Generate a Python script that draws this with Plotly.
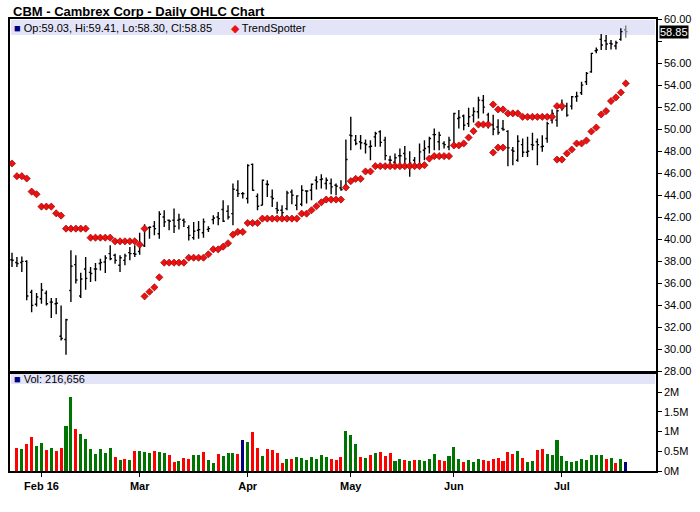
import pandas as pd
import plotly.graph_objects as go

# trading days on the chart (exchange holidays dropped)
holidays = ["2016-02-15", "2016-03-25", "2016-05-30", "2016-07-04"]
days = [d.strftime("%Y-%m-%d") for d in pd.bdate_range("2016-01-22", "2016-07-21")]
days = [d for d in days if d not in holidays]

month_ticks = ["2016-02-01", "2016-03-01", "2016-04-01", "2016-05-02", "2016-06-01", "2016-07-01"]
month_labels = ["Feb 16", "Mar", "Apr", "May", "Jun", "Jul"]

price_ticks = [28, 30, 32, 34, 36, 38, 40, 42, 44, 46, 48, 50, 52, 54, 56, 58, 60]
vol_ticks = [0, 0.5, 1, 1.5, 2]
vol_labels = ["0M", "0.5M", "1M", "1.5M", "2M"]

opens = [
    38.15, 37.90, 37.90, 38.00, 35.20, 34.10, 34.60, 35.10, 34.30, 34.15,
    31.20, 30.90, 35.36, 37.70, 34.85, 37.30, 37.00, 37.30, 37.80, 37.94,
    38.70, 38.55, 37.64, 38.09, 38.79, 38.70, 38.90, 39.40, 41.06, 41.18,
    40.50, 42.03, 41.73, 41.73, 41.73, 41.73, 41.06, 40.15, 40.82, 40.60,
    40.90, 41.79, 42.03, 42.70, 42.55, 42.33, 44.45, 44.15, 43.70, 46.80,
    43.90, 43.09, 45.00, 43.85, 42.79, 42.64, 42.79, 44.30, 43.09, 43.18,
    44.39, 44.45, 45.36, 45.42, 45.06, 45.06, 44.91, 44.67, 44.90, 49.46,
    49.00, 48.85, 48.70, 48.40, 49.30, 49.76, 49.00, 47.20, 47.00, 47.58,
    47.79, 46.70, 47.18, 46.80, 48.09, 48.40, 49.50, 48.85, 48.70, 48.40,
    48.60, 50.97, 51.20, 50.50, 51.27, 51.58, 52.60, 51.30, 50.40, 50.20,
    50.06, 49.80, 48.10, 47.18, 48.60, 47.90, 48.60, 48.85, 48.40, 49.15,
    50.82, 50.82, 52.09, 52.09, 52.09, 52.94, 53.30, 54.30, 55.20, 57.12,
    58.15, 58.03, 57.79, 57.55, 58.15, 59.03,
]
highs = [
    38.79, 38.39, 38.45, 38.09, 35.42, 35.12, 36.03, 35.36, 34.67, 34.67,
    34.00, 32.79, 39.00, 38.55, 36.97, 38.39, 37.48, 37.85, 38.24, 38.55,
    39.45, 38.70, 38.55, 38.70, 39.30, 39.45, 40.60, 41.36, 41.18, 41.67,
    42.55, 42.64, 41.79, 42.79, 42.33, 41.88, 41.27, 41.58, 41.67, 41.88,
    41.18, 42.18, 42.48, 43.55, 43.09, 45.06, 45.36, 44.30, 46.82, 46.88,
    44.15, 45.43, 45.36, 44.52, 43.40, 43.09, 44.40, 44.52, 44.00, 44.91,
    44.45, 45.06, 45.73, 45.91, 45.61, 45.52, 45.06, 45.36, 49.06, 51.12,
    49.46, 49.46, 49.06, 49.00, 49.76, 49.90, 49.30, 47.58, 47.79, 48.24,
    48.48, 48.00, 47.48, 48.70, 49.00, 49.30, 50.06, 49.76, 48.90, 49.30,
    51.50, 51.73, 51.33, 51.94, 52.00, 52.94, 53.09, 51.50, 51.30, 50.90,
    50.82, 49.91, 48.39, 49.45, 49.15, 49.30, 49.67, 49.15, 49.45, 50.67,
    51.79, 51.73, 52.70, 52.39, 53.00, 53.39, 54.30, 55.20, 56.94, 57.42,
    58.64, 58.55, 58.09, 58.03, 59.15, 59.41,
]
lows = [
    37.48, 37.48, 37.03, 34.46, 33.39, 33.90, 34.15, 34.00, 32.85, 33.20,
    30.82, 29.51, 34.30, 36.00, 34.67, 35.42, 36.12, 36.20, 37.18, 36.94,
    38.09, 37.79, 37.03, 37.64, 38.09, 38.40, 38.60, 39.30, 40.06, 40.36,
    40.06, 41.12, 40.82, 40.58, 40.90, 41.12, 39.90, 39.97, 40.06, 40.15,
    40.67, 41.36, 41.27, 41.58, 41.79, 41.27, 43.85, 43.70, 43.24, 44.40,
    42.64, 43.09, 43.85, 42.94, 42.33, 41.88, 42.64, 43.18, 42.64, 43.00,
    43.24, 43.55, 44.52, 44.61, 44.52, 44.10, 44.00, 44.40, 44.70, 48.09,
    48.55, 48.15, 47.79, 47.18, 48.40, 48.40, 47.18, 46.73, 46.73, 46.88,
    46.67, 45.67, 46.42, 46.58, 47.18, 47.79, 48.09, 48.09, 48.24, 48.09,
    48.40, 50.06, 49.90, 50.20, 50.60, 50.97, 51.42, 50.06, 49.45, 49.50,
    49.85, 46.64, 46.73, 47.03, 47.48, 47.48, 48.09, 46.73, 47.94, 48.76,
    50.52, 50.21, 51.67, 51.12, 51.79, 52.48, 53.09, 54.00, 55.12, 56.88,
    57.18, 57.18, 57.24, 57.24, 58.03, 58.30,
]
closes = [
    38.10, 37.80, 38.00, 34.85, 34.00, 34.76, 35.40, 34.15, 34.30, 34.20,
    31.00, 32.70, 37.55, 36.30, 36.40, 36.45, 36.90, 37.30, 37.90, 38.30,
    38.24, 38.09, 38.33, 38.50, 38.70, 38.64, 39.60, 41.00, 41.10, 40.97,
    42.27, 41.58, 41.64, 41.18, 41.82, 41.58, 40.36, 40.73, 40.88, 41.58,
    40.97, 41.94, 41.88, 41.64, 42.03, 44.55, 44.15, 44.15, 46.70, 44.45,
    43.00, 45.36, 44.97, 43.70, 42.64, 42.42, 44.21, 44.00, 43.94, 44.45,
    44.39, 45.00, 45.21, 45.48, 45.36, 44.76, 44.82, 44.52, 47.24, 49.40,
    48.70, 48.76, 48.61, 48.45, 49.60, 48.80, 47.60, 47.18, 47.40, 47.58,
    47.30, 46.90, 46.60, 47.94, 48.24, 49.15, 49.50, 49.45, 48.60, 49.00,
    51.42, 51.06, 50.36, 51.12, 51.60, 52.64, 52.00, 50.40, 50.00, 49.70,
    49.97, 48.30, 48.00, 48.90, 47.90, 48.00, 48.55, 48.60, 48.45, 50.50,
    51.42, 51.67, 51.88, 51.27, 52.94, 53.00, 54.00, 55.06, 56.88, 57.18,
    57.64, 57.73, 57.73, 57.85, 58.85, 58.85,
]

# TrendSpotter dots: the run above price and the run below price
ts_upper = [
    46.88, 45.73, 45.73, 45.52, 44.33, 44.09, 42.97, 42.97, 42.97, 42.36,
    42.15, 40.97, 40.97, 40.97, 40.97, 40.97, 40.15, 40.15, 40.15, 40.15,
    40.15, 39.82, 39.82, 39.82, 39.82, 39.82, 39.52, 40.97,
] + [None] * 70 + [
    52.24, 51.79, 51.79, 51.43, 51.43, 51.43, 51.12, 51.12, 51.12, 51.12,
    51.12, 51.12, 51.12, 52.09, 52.09,
] + [None] * 13
ts_lower = [None] * 27 + [
    34.82, 35.24, 35.64, 36.55, 37.88, 37.88, 37.88, 37.88, 37.88, 38.33,
    38.33, 38.33, 38.33, 38.64, 39.09, 39.09, 39.33, 39.64, 40.42, 40.67,
    40.67, 41.48, 41.48, 41.48, 41.88, 41.88, 41.88, 41.88, 41.88, 41.88,
    41.88, 41.88, 42.33, 42.33, 42.64, 43.00, 43.36, 43.61, 43.61, 43.61,
    43.61, 44.70, 45.28, 45.49, 45.49, 46.16, 46.16, 46.64, 46.64, 46.64,
    46.64, 46.64, 46.64, 46.64, 46.64, 46.64, 46.64, 46.73, 47.33, 47.55,
    47.55, 47.55, 47.55, 48.52, 48.52, 48.70, 49.24, 49.82, 50.42, 50.42,
    50.42, 47.88, 48.33, 48.33,
] + [None] * 10 + [
    47.24, 47.24, 47.79, 48.15, 48.70, 48.70, 48.97, 49.79, 50.15, 51.33,
    51.64, 52.55, 52.88, 53.33, 54.15,
]

# volume in millions of shares; first day has no bar on the chart
volume_m = [
    None, 0.58, 0.56, 0.68, 0.86, 0.63, 0.71, 0.53, 0.58, 0.51,
    0.58, 1.14, 1.87, 1.06, 0.94, 0.81, 0.56, 0.43, 0.56, 0.46,
    0.58, 0.35, 0.28, 0.30, 0.28, 0.51, 0.51, 0.48, 0.46, 0.51,
    0.48, 0.46, 0.41, 0.23, 0.25, 0.33, 0.30, 0.41, 0.41, 0.48,
    0.28, 0.20, 0.43, 0.38, 0.46, 0.46, 0.43, 0.78, 0.73, 0.99,
    0.58, 0.38, 0.56, 0.53, 0.46, 0.20, 0.30, 0.30, 0.35, 0.33,
    0.28, 0.35, 0.30, 0.41, 0.35, 0.30, 0.28, 0.35, 1.01, 0.91,
    0.68, 0.35, 0.33, 0.41, 0.46, 0.48, 0.38, 0.46, 0.25, 0.30,
    0.28, 0.25, 0.28, 0.28, 0.25, 0.30, 0.43, 0.28, 0.25, 0.38,
    0.61, 0.30, 0.23, 0.28, 0.23, 0.30, 0.28, 0.25, 0.30, 0.33,
    0.25, 0.48, 0.43, 0.51, 0.33, 0.23, 0.25, 0.53, 0.56, 0.43,
    0.41, 0.78, 0.38, 0.25, 0.23, 0.25, 0.30, 0.28, 0.41, 0.41,
    0.41, 0.30, 0.33, 0.20, 0.30, 0.22,
]
# u = close up, d = close down, n = unchanged
vol_dir = (
    "- d u d d u u d u d "
    "d u u d u u u u u u "
    "u d u d u d u u u d "
    "u u d d u d d u u d "
    "u u d u u u d n u d "
    "d u d d d d u d u u "
    "u u u u u d d d u u "
    "u d u d u d d d u u "
    "d u d u u u u d d u "
    "u u d u u u d d d d "
    "d d d u d u u d d u "
    "u u u u u u u u u u "
    "u d u d u n"
).split()

W, H = 700, 512
X0, X1 = 10, 656          # plot area, pixels
PRICE_TOP, PRICE_BOT = 19, 371.5
VOL_TOP, VOL_BOT = 373, 471
STEP = 4.91               # pixels per trading day
FIRST = 12                # pixel of first bar

dir_colors = {"u": "#007400", "d": "#ff0000", "n": "#000080", "-": "#ffffff"}
font = "Liberation Sans"

fig = go.Figure()

fig.add_trace(go.Ohlc(
    x=days[:-1], open=opens[:-1], high=highs[:-1], low=lows[:-1], close=closes[:-1],
    increasing_line_color="black", decreasing_line_color="black",
    line_width=1.4, tickwidth=0.35, showlegend=False, hoverinfo="skip",
))
fig.add_trace(go.Ohlc(
    x=days[-1:], open=opens[-1:], high=highs[-1:], low=lows[-1:], close=closes[-1:],
    increasing_line_color="#808080", decreasing_line_color="#808080",
    line_width=1.4, tickwidth=0.35, showlegend=False, hoverinfo="skip",
))
for series in (ts_upper, ts_lower):
    fig.add_trace(go.Scatter(
        x=days, y=series, mode="markers", showlegend=False, hoverinfo="skip",
        marker=dict(symbol="diamond", size=5.5, color="#ee1111",
                    line=dict(color="#990000", width=0.7)),
    ))
fig.add_trace(go.Bar(
    x=days, y=volume_m, xaxis="x2", yaxis="y2", width=0.62,
    marker=dict(color=[dir_colors[d] for d in vol_dir], line_width=0),
    showlegend=False, hoverinfo="skip",
))

x_lo = (X0 - FIRST) / STEP
x_hi = (X1 - FIRST) / STEP
vol_top_value = 2 * (VOL_BOT - VOL_TOP) / (VOL_BOT - 392)

axis_common = dict(showgrid=False, zeroline=False, showline=True, linecolor="black",
                   linewidth=1.5, mirror=True, automargin=False)

fig.update_layout(
    width=W, height=H, margin=dict(l=0, r=0, t=0, b=0),
    paper_bgcolor="white", plot_bgcolor="white",
    font=dict(family=font, size=11, color="black"),
    xaxis=dict(axis_common, type="category", categoryorder="array", categoryarray=days,
               domain=[X0 / W, X1 / W], range=[x_lo, x_hi], anchor="y",
               showticklabels=False, ticks="", rangeslider=dict(visible=False)),
    yaxis=dict(axis_common, domain=[1 - PRICE_BOT / H, 1 - PRICE_TOP / H],
               range=[28, 60], side="right", anchor="x",
               tickvals=price_ticks,
               ticktext=["" if v == 58 else f"{v:.2f}" for v in price_ticks],
               ticks="outside", ticklen=4, tickcolor="black"),
    xaxis2=dict(axis_common, type="category", categoryorder="array", categoryarray=days,
                domain=[X0 / W, X1 / W], range=[x_lo, x_hi], anchor="y2", matches="x",
                tickvals=month_ticks, ticktext=month_labels, ticks="outside",
                ticklen=4, tickcolor="black",
                tickfont=dict(family=font, size=11, weight="bold")),
    yaxis2=dict(axis_common, domain=[1 - VOL_BOT / H, 1 - VOL_TOP / H],
                range=[0, vol_top_value], side="right", anchor="x2",
                tickvals=vol_ticks, ticktext=vol_labels,
                ticks="outside", ticklen=4, tickcolor="black"),
    bargap=0,
)

# lavender header strips behind the data
for top, bot in ((PRICE_TOP + 1, 35), (VOL_TOP + 1, 384)):
    fig.add_shape(type="rect", xref="paper", yref="paper", layer="below",
                  x0=(X0 + 1) / W, x1=(X1 - 1) / W, y0=1 - bot / H, y1=1 - top / H,
                  fillcolor="#e4e4f8", line_width=0)

fig.add_annotation(
    text="<b>CBM - Cambrex Corp - Daily OHLC Chart</b>", xref="paper", yref="paper",
    x=11 / W, y=1 - 11 / H, xanchor="left", yanchor="middle", showarrow=False,
    font=dict(family=font, size=13, color="black"),
)
fig.add_annotation(
    text=(f"<span style='color:#000080'>■</span> Op:{opens[-1]:.2f}, Hi:{highs[-1]:.2f}, "
          f"Lo:{lows[-1]:.2f}, Cl:{closes[-1]:.2f}"),
    xref="paper", yref="paper", x=12 / W, y=1 - 28 / H, xanchor="left", yanchor="middle",
    showarrow=False, font=dict(family=font, size=11, color="black"),
)
fig.add_annotation(
    text="<span style='color:#ee1111'>◆</span> TrendSpotter",
    xref="paper", yref="paper", x=229 / W, y=1 - 28 / H, xanchor="left", yanchor="middle",
    showarrow=False, font=dict(family=font, size=11, color="black"),
)
fig.add_annotation(
    text="<span style='color:#000080'>■</span> Vol: 216,656",
    xref="paper", yref="paper", x=12 / W, y=1 - 379 / H, xanchor="left", yanchor="middle",
    showarrow=False, font=dict(family=font, size=11, color="black"),
)
fig.add_annotation(
    text=f"{closes[-1]:.2f}", xref="paper", yref="y", x=659 / W, y=closes[-1],
    xanchor="left", yanchor="middle", showarrow=False, bgcolor="black", borderpad=0,
    font=dict(family=font, size=11, color="white"),
)

# the page's default body margin would push the chart off its 700x512 frame
fig.write_html("out.html", config={"displayModeBar": False},
               post_script="document.body.style.margin = '0';")
